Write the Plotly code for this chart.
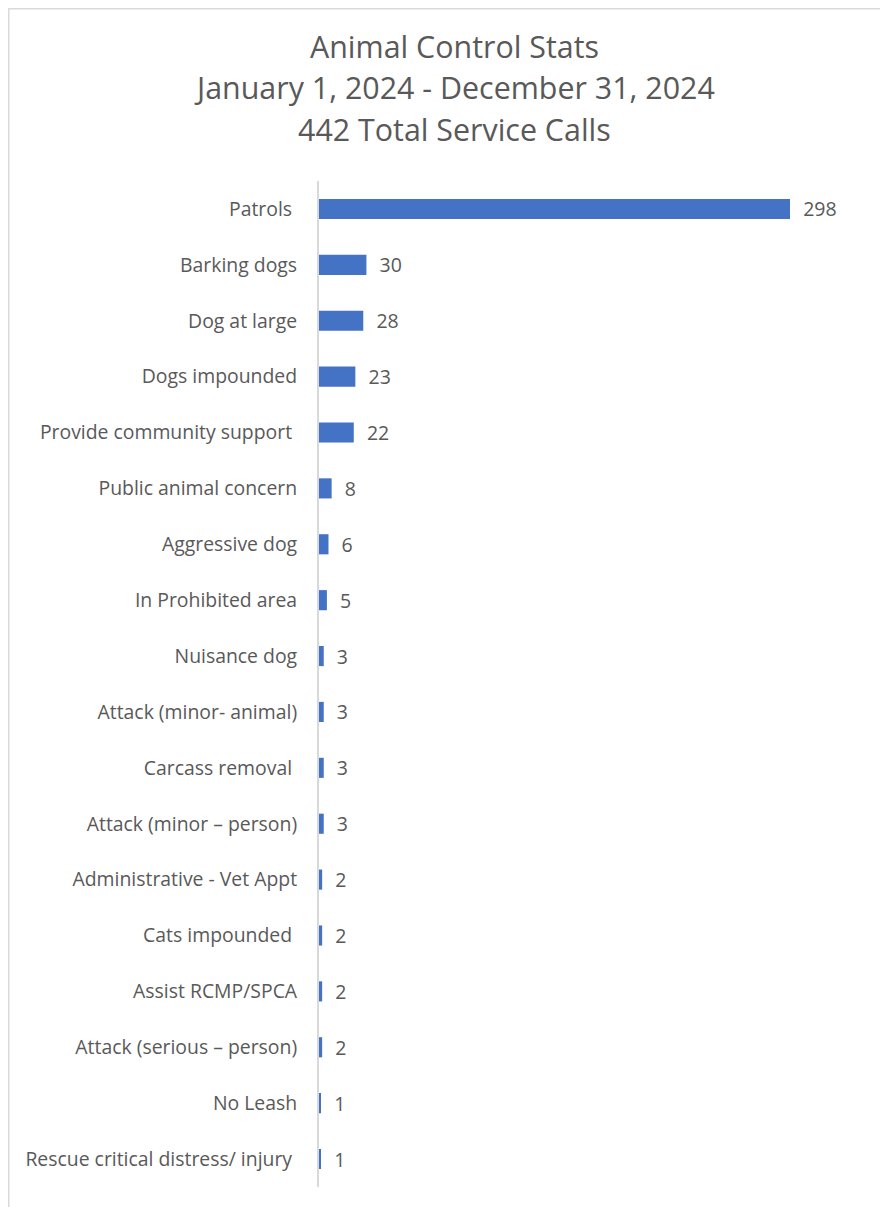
import plotly.graph_objects as go

categories = [
    "Patrols\u00a0", "Barking dogs", "Dog at large", "Dogs impounded",
    "Provide community support\u00a0", "Public animal concern", "Aggressive dog",
    "In Prohibited area", "Nuisance dog", "Attack (minor- animal)",
    "Carcass removal\u00a0", "Attack (minor \u2013 person)", "Administrative - Vet Appt",
    "Cats impounded\u00a0", "Assist RCMP/SPCA", "Attack (serious \u2013 person)",
    "No Leash", "Rescue critical distress/ injury\u00a0",
]
values = [298, 30, 28, 23, 22, 8, 6, 5, 3, 3, 3, 3, 2, 2, 2, 2, 1, 1]
title_lines = ["Animal Control Stats", "January 1, 2024 - December 31, 2024", "442 Total Service Calls"]

FONT = "Open Sans"
GRAY = "#595959"

# page has an 8px body margin; work in figure pixel coordinates
W, H = 880, 1199
L, R, T, B = 311, 862, 173, 1179
px_per_unit = (782 - L) / 298

fig = go.Figure(go.Bar(
    x=values, y=categories, orientation="h",
    marker=dict(color="#4472C4", line=dict(width=0)),
    text=["\u00a0\u00a0" + str(v) for v in values],
    textposition="outside", cliponaxis=False, constraintext="none",
    textfont=dict(family=FONT, size=19.5, color=GRAY),
))

fig.update_layout(
    width=W, height=H,
    margin=dict(l=L, r=W - R, t=T, b=H - B, pad=0),
    paper_bgcolor="white", plot_bgcolor="white",
    showlegend=False, bargap=0.64,
    xaxis=dict(range=[0, (R - L) / px_per_unit], visible=False),
    yaxis=dict(autorange="reversed", showline=True, linecolor="#D9D9D9", linewidth=2,
               ticks="", showgrid=False, ticklabelstandoff=16,
               tickfont=dict(family=FONT, size=19.4, color=GRAY)),
)

ys = [38, 80, 122]
for line, py in zip(title_lines, ys):
    fig.add_annotation(text=line, xref="paper", yref="paper",
                       x=(454 - 8 - L) / (R - L), y=(B - py) / (B - T),
                       xanchor="center", yanchor="middle", showarrow=False,
                       font=dict(family=FONT, size=30.4, color=GRAY))

fig.add_shape(type="rect", xref="paper", yref="paper",
              x0=(0.75 - L) / (R - L), x1=(900 - L) / (R - L),
              y0=(B - 1220) / (B - T), y1=(B - 0.75) / (B - T),
              line=dict(color="#D9D9D9", width=1.5), fillcolor="rgba(0,0,0,0)", layer="below")

fig.write_html("out.html")
